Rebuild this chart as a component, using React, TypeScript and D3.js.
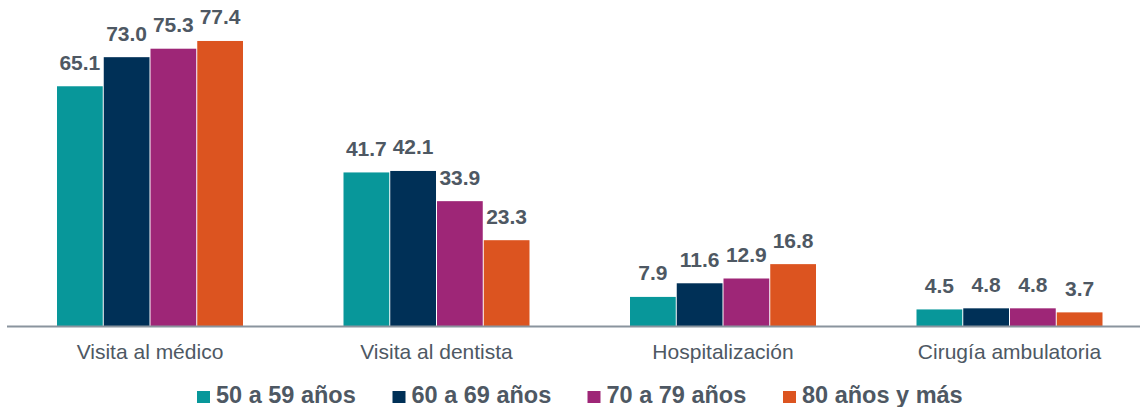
import React from "react";
import * as d3 from "d3";

const categories = ["Visita al médico", "Visita al dentista", "Hospitalización", "Cirugía ambulatoria"];
const seriesNames = ["50 a 59 años", "60 a 69 años", "70 a 79 años", "80 años y más"];
const s50 = [65.1, 41.7, 7.9, 4.5];
const s60 = [73.0, 42.1, 11.6, 4.8];
const s70 = [75.3, 33.9, 12.9, 4.8];
const s80 = [77.4, 23.3, 16.8, 3.7];
const seriesValues = [s50, s60, s70, s80];
const colors = ["#08979A", "#003057", "#9E2677", "#DC5420"];

const W = 1140;
const H = 407;
const FONT = "'Liberation Sans', Arial, Helvetica, sans-serif";
const TEXT = "#4E5863";

export default function App() {
  const x0 = d3.scaleBand<string>().domain(categories).range([6.75, 1152.75]).paddingInner(0.3473).paddingOuter(0.3473 / 2);
  const x1 = d3.scaleBand<string>().domain(seriesNames).range([0, x0.bandwidth()]).padding(0);
  const y = d3.scaleLinear().domain([0, 80]).range([326, 31.4]);

  const legendX = [197, 392.5, 587.5, 783];

  return (
    <svg width={W} height={H} style={{ position: "absolute", left: 0, top: 0 }} fontFamily={FONT}>
      <rect width={W} height={H} fill="#fff" />
      {categories.map((c, ci) => (
        <g key={c} transform={`translate(${x0(c)},0)`}>
          {seriesNames.map((s, si) => {
            const v = seriesValues[si][ci];
            const bx = x1(s)!;
            const bw = x1.bandwidth();
            return (
              <g key={s}>
                <rect x={bx + 0.5} y={y(v)} width={bw - 1} height={y(0) - y(v)} fill={colors[si]} />
                <text x={bx + bw / 2} y={y(v) - 16.5} textAnchor="middle" fontWeight="bold" fontSize={21} fill={TEXT}>
                  {v.toFixed(1)}
                </text>
              </g>
            );
          })}
          <text x={x0.bandwidth() / 2} y={359} textAnchor="middle" fontSize={21} fill={TEXT}>
            {c}
          </text>
        </g>
      ))}
      <line x1={7} x2={W} y1={326.5} y2={326.5} stroke="#8A949E" strokeWidth={2} />
      {seriesNames.map((s, i) => (
        <g key={s} transform={`translate(${legendX[i]},0)`}>
          <rect x={0} y={391} width={13} height={12} fill={colors[i]} />
          <text x={19} y={403} fontWeight="bold" fontSize={23.5} fill={TEXT}>
            {s}
          </text>
        </g>
      ))}
    </svg>
  );
}
